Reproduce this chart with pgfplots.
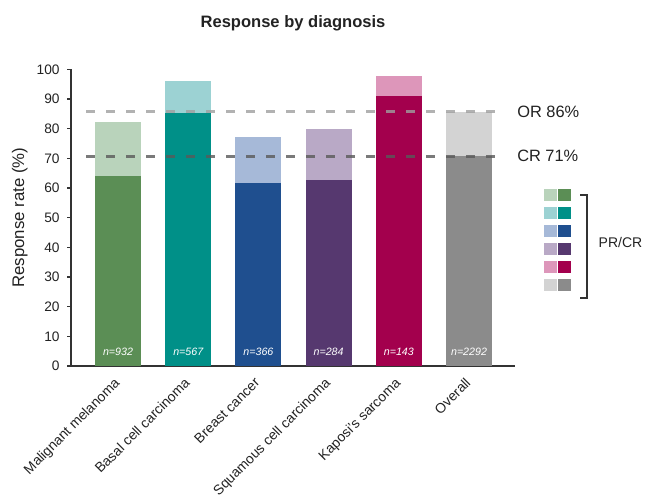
\documentclass[border=0pt]{standalone}
\usepackage{pgfplots}
\pgfplotsset{compat=1.18}
\usepackage{fontspec}
\setmainfont{Liberation Sans}

\definecolor{mmD}{HTML}{5B8E55}\definecolor{mmL}{HTML}{B9D3BB}
\definecolor{bcD}{HTML}{009088}\definecolor{bcL}{HTML}{9CD2D3}
\definecolor{brD}{HTML}{1F4F8F}\definecolor{brL}{HTML}{A6B9D8}
\definecolor{scD}{HTML}{56386F}\definecolor{scL}{HTML}{B9A9C6}
\definecolor{ksD}{HTML}{A3004D}\definecolor{ksL}{HTML}{DD96BA}
\definecolor{ovD}{HTML}{8B8B8B}\definecolor{ovL}{HTML}{D3D3D3}
\definecolor{txt}{HTML}{222222}
\definecolor{axc}{HTML}{333333}

\begin{document}
\begin{tikzpicture}[x=0.75pt,y=0.75pt]
\useasboundingbox (0,0) rectangle (645,498);
\begin{axis}[
  at={(53.25pt,99pt)}, anchor=south west,
  scale only axis, width=333pt, height=222.5pt,
  xmin=-0.67, xmax=5.655, ymin=0, ymax=100,
  axis x line=bottom, axis y line=left,
  axis line style={-, draw=axc, line width=0.9pt},
  ytick={0,10,...,100},
  tick align=outside,
  major tick length=3pt,
  ytick style={draw=axc, line width=0.9pt},
  xtick={0,1,2,3,4,5},
  xtick style={draw=none},
  xticklabels={Malignant melanoma, Basal cell carcinoma, Breast cancer, Squamous cell carcinoma, Kaposi's sarcoma, Overall},
  xticklabel style={rotate=45, anchor=north east, font=\fontsize{10.4}{12}\selectfont, text=txt, inner sep=1pt, xshift=-5pt, yshift=0pt},
  yticklabel style={font=\fontsize{10.3}{12}\selectfont, text=txt, xshift=-2pt},
  /pgf/number format/assume math mode=true,
  ylabel={Response rate (\%)},
  ylabel style={font=\fontsize{12.6}{14}\selectfont, text=txt},
  title={Response by diagnosis},
  title style={font=\bfseries\fontsize{12.4}{14}\selectfont, text=txt, yshift=19.5pt},
  ybar, bar width=0.655, bar shift=0pt,
  clip=false,
]
% totals (PR+CR), light
\addplot[fill=mmL, draw=none] coordinates {(0,82.2)};
\addplot[fill=bcL, draw=none] coordinates {(1,96.2)};
\addplot[fill=brL, draw=none] coordinates {(2,77.3)};
\addplot[fill=scL, draw=none] coordinates {(3,79.8)};
\addplot[fill=ksL, draw=none] coordinates {(4,97.9)};
\addplot[fill=ovL, draw=none] coordinates {(5,85.7)};
% CR, dark
\addplot[fill=mmD, draw=none] coordinates {(0,64.2)};
\addplot[fill=bcD, draw=none] coordinates {(1,85.3)};
\addplot[fill=brD, draw=none] coordinates {(2,61.8)};
\addplot[fill=scD, draw=none] coordinates {(3,62.7)};
\addplot[fill=ksD, draw=none] coordinates {(4,90.9)};
\addplot[fill=ovD, draw=none] coordinates {(5,70.7)};
% reference lines
\addplot[sharp plot, draw=gray!75, line width=2pt, dash pattern=on 7pt off 8pt, opacity=0.8]
  coordinates {(-0.456,85.8) (5.51,85.8)};
\addplot[sharp plot, draw=black!65, line width=2pt, dash pattern=on 7pt off 8pt, opacity=0.8]
  coordinates {(-0.456,70.7) (5.51,70.7)};
\node[anchor=west, font=\fontsize{12.3}{14}\selectfont, text=txt] at (axis cs:5.62,85.8) {OR 86\%};
\node[anchor=west, font=\fontsize{12.3}{14}\selectfont, text=txt] at (axis cs:5.62,70.7) {CR 71\%};
% sample sizes
\node[text=white, font=\itshape\fontsize{8}{10}\selectfont] at (axis cs:0,4.8) {n=932};
\node[text=white, font=\itshape\fontsize{8}{10}\selectfont] at (axis cs:1,4.8) {n=567};
\node[text=white, font=\itshape\fontsize{8}{10}\selectfont] at (axis cs:2,4.8) {n=366};
\node[text=white, font=\itshape\fontsize{8}{10}\selectfont] at (axis cs:3,4.8) {n=284};
\node[text=white, font=\itshape\fontsize{8}{10}\selectfont] at (axis cs:4,4.8) {n=143};
\node[text=white, font=\itshape\fontsize{8}{10}\selectfont] at (axis cs:5,4.8) {n=2292};
\end{axis}
% key
\foreach \i/\c in {0/mm,1/bc,2/br,3/sc,4/ks,5/ov}{
  \fill[\c L] (544,{302.5-17.9*\i-6}) rectangle (557,{302.5-17.9*\i+6});
  \fill[\c D] (558,{302.5-17.9*\i-6}) rectangle (571,{302.5-17.9*\i+6});
}
\draw[axc, line width=0.8pt] (580,303) -- (587,303) -- (587,200) -- (580,200);
\node[anchor=west, font=\fontsize{10.5}{12}\selectfont, text=txt] at (594,255) {PR/CR};
\end{tikzpicture}
\end{document}
